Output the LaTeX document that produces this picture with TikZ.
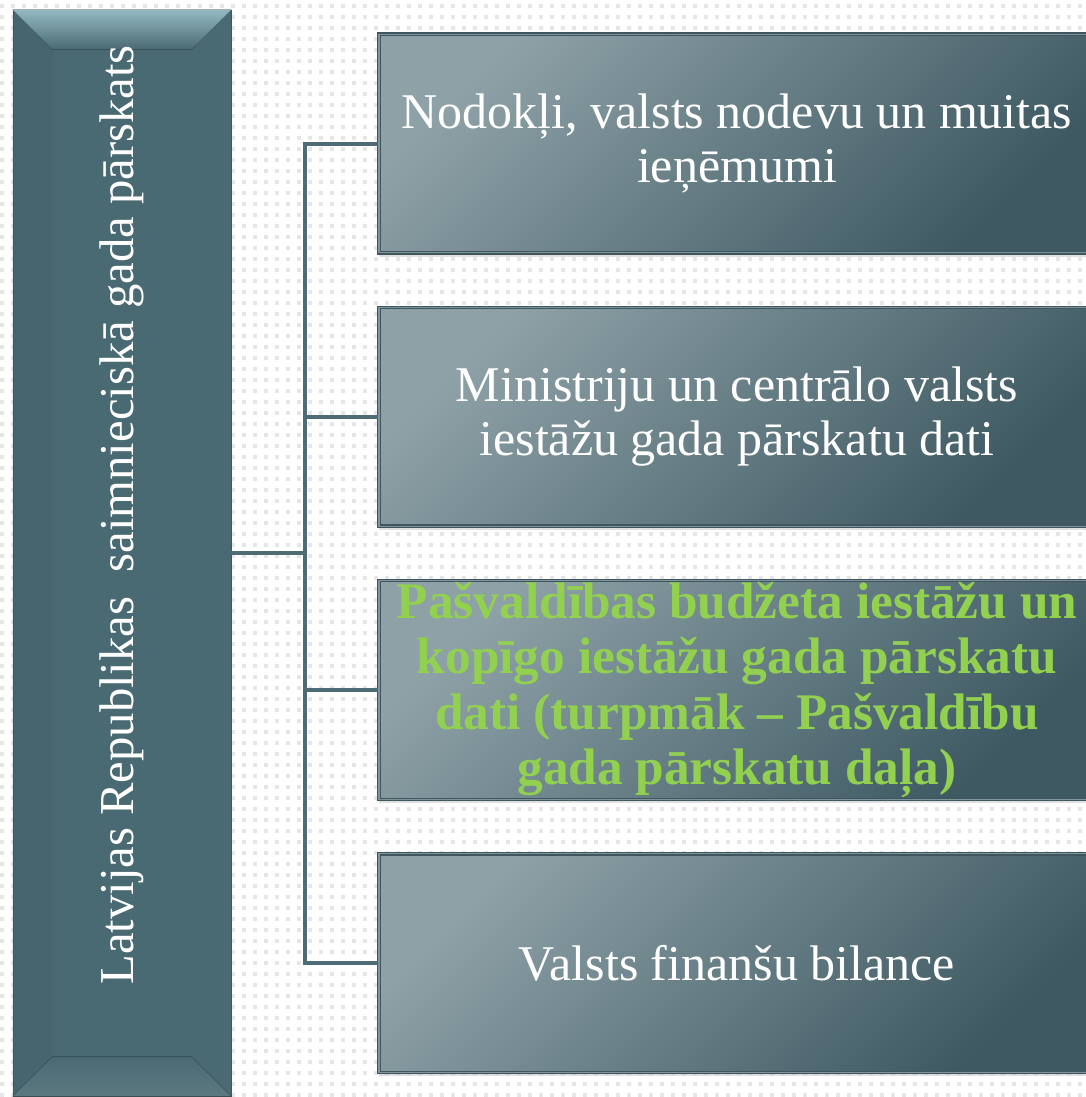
\documentclass[tikz,border=0pt]{standalone}
\usepackage{fontspec}
\setmainfont{Liberation Serif}
\usepackage{xcolor}
\usetikzlibrary{positioning, calc, shadows}
\definecolor{slate}{HTML}{4A6A73}
\definecolor{slatelight}{HTML}{8EA1A7}
\definecolor{slatedark}{HTML}{3E5962}
\definecolor{slateedge}{HTML}{3F565E}
\definecolor{slaterim}{HTML}{7E949A}
\definecolor{bevellight}{HTML}{93B8C1}
\definecolor{wirecol}{HTML}{4E6C75}
\definecolor{hilite}{HTML}{92D050}
\definecolor{dotcol}{HTML}{E6E6E6}
\tikzset{
    rootbox/.style={
        rectangle,
        draw=slateedge,
        line width=0.5pt,
        fill=slate,
        minimum width=163.5pt,
        minimum height=814.5pt,
        inner sep=0pt
    },
    itembox/.style={
        rectangle,
        draw=slateedge,
        double=slaterim,
        double distance=0.8pt,
        line width=0.9pt,
        shading=axis,
        top color=slatelight,
        bottom color=slatedark,
        shading angle=45,
        minimum width=537pt,
        minimum height=164pt,
        align=center,
        text=white,
        font=\fontsize{37.5}{41}\selectfont,
        drop shadow={opacity=0.25, shadow xshift=0pt, shadow yshift=-3pt}
    },
    highlight/.style={
        text=hilite,
        inner sep=0pt,
        font=\fontsize{38.5}{41.5}\selectfont\bfseries
    },
    link/.style={
        draw=wirecol,
        line width=3pt
    },
    dotrow/.style={
        draw=dotcol,
        line width=3pt,
        dash pattern=on 3pt off 5.25pt
    }
}
\begin{document}
\begin{tikzpicture}[x=0.75pt, y=-0.75pt]
\useasboundingbox (0,0) rectangle (1086,1097);
\clip (0,0) rectangle (1086,1097);

% Dotted background
\fill[white] (0,0) rectangle (1086,1097);
\foreach \r in {0,...,99}
    \draw[dotrow] (0,{6+11*\r}) -- (1086,{6+11*\r});

% Report box (left)
\node[rootbox] (root) at (122,553) {};
\fill[top color=bevellight, bottom color=slate] (root.north west) -- (root.north east)
    -- ($(root.north east)+(-40,40)$) -- ($(root.north west)+(40,40)$) -- cycle;
\fill[slate!85!black, opacity=0.25] (root.north west) -- ($(root.north west)+(40,40)$)
    -- ($(root.south west)+(40,-40)$) -- (root.south west) -- cycle;
\fill[bottom color=slate!90!white, top color=slate] (root.south west) -- (root.south east)
    -- ($(root.south east)+(-40,-40)$) -- ($(root.south west)+(40,-40)$) -- cycle;
\node[rotate=90, text=white, font=\fontsize{36.5}{41}\selectfont] (roottext) at (122,515)
    {Latvijas Republikas \ saimnieciskā gada pārskats};

% Part boxes (right)
\node[itembox] (item1) at (737,143.5) {Nodokļi, valsts nodevu un muitas\\ieņēmumi};
\node[itembox, below=40pt of item1] (item2) {Ministriju un centrālo valsts\\iestāžu gada pārskatu dati};
\node[itembox, highlight, below=40pt of item2] (item3) {Pašvaldības budžeta iestāžu un\\kopīgo iestāžu gada pārskatu\\dati (turpmāk -- Pašvaldību\\gada pārskatu daļa)};
\node[itembox, below=40pt of item3] (item4) {Valsts finanšu bilance};

% Connections
\coordinate (hub) at (305,553);
\draw[link] (root.east |- hub) -- (hub);
\foreach \i in {1,...,4}
    \draw[link] (hub) |- (item\i.west);

\end{tikzpicture}
\end{document}
